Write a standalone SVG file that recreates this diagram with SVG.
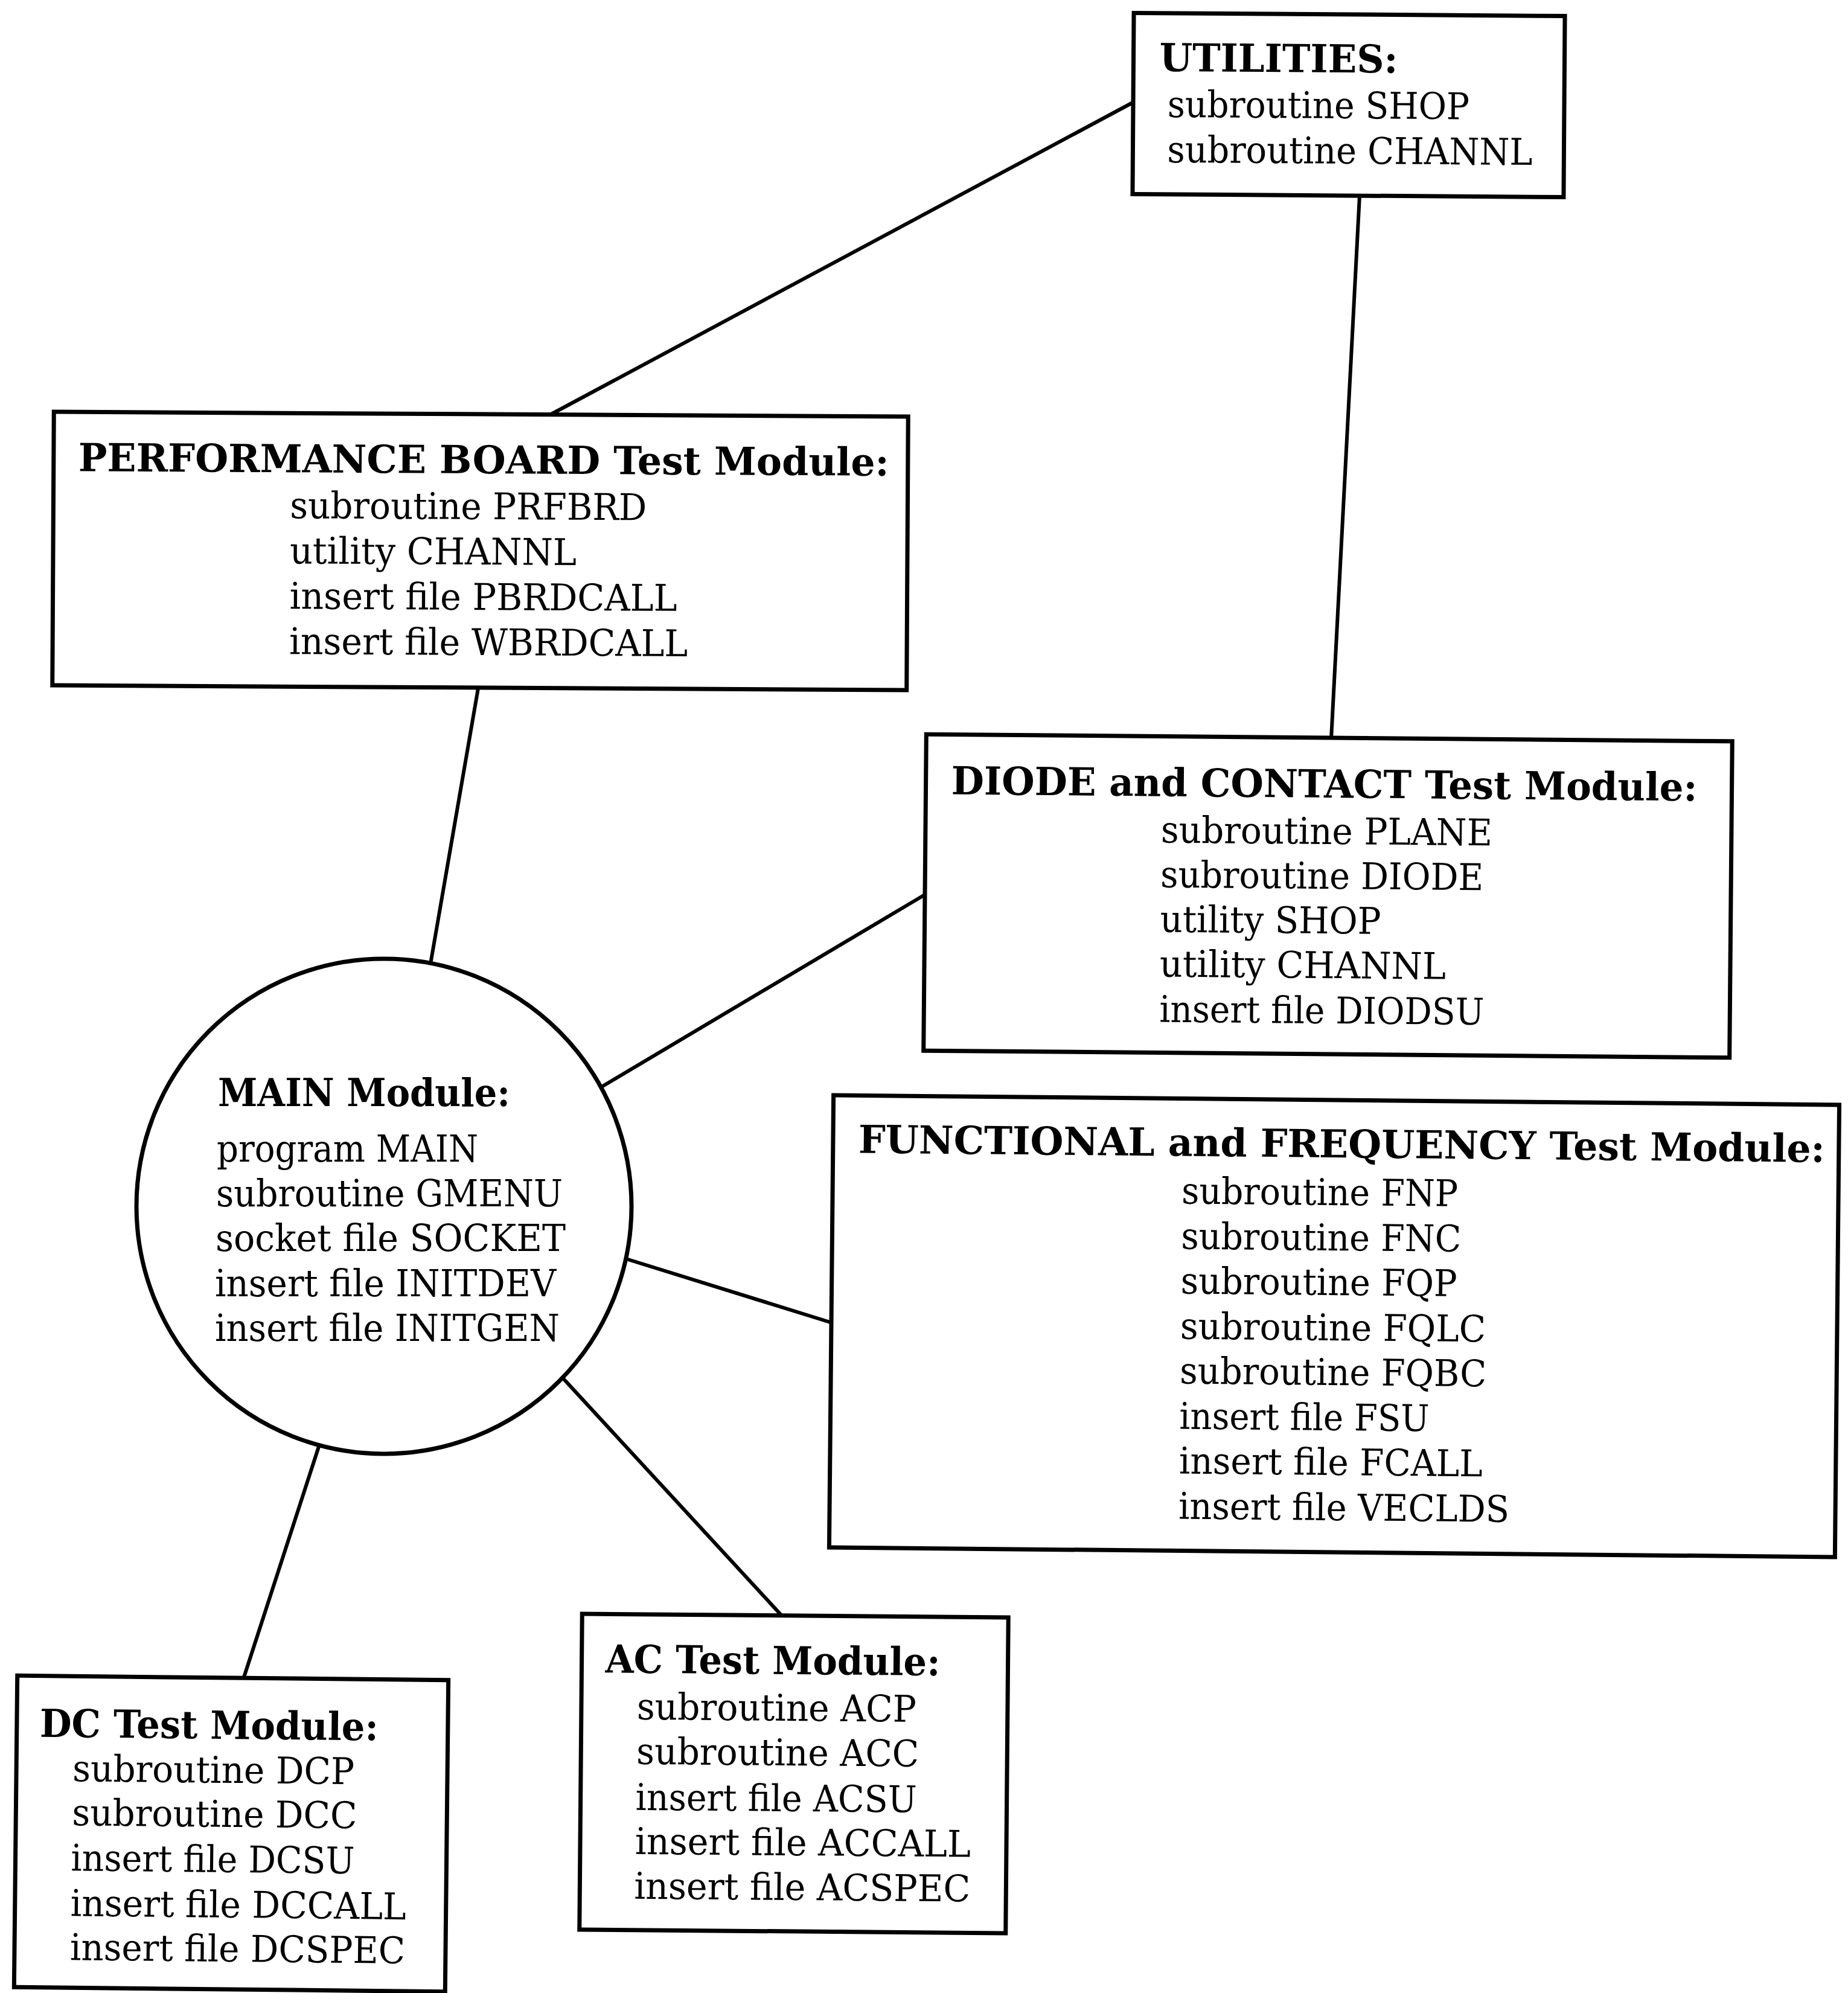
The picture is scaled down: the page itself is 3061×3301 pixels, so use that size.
<svg xmlns="http://www.w3.org/2000/svg" width="3061" height="3301" viewBox="0 0 3061 3301">
  <style>
    .box { fill: #ffffff; stroke: #000000; stroke-width: 7; }
    .edge { stroke: #000000; stroke-width: 6; fill: none; stroke-linecap: round; }
    .hd { font-family: "DejaVu Serif", "Liberation Serif", serif; font-weight: bold; font-size: 64px; fill: #000000; }
    .ln { font-family: "DejaVu Serif", "Liberation Serif", serif; font-size: 61px; fill: #000000; }
  </style>
  <rect x="0" y="0" width="3061" height="3301" fill="#ffffff"/>

  <!-- links between modules -->
  <g id="connectors">
    <line class="edge" x1="1876" y1="170" x2="913" y2="686"/>
    <line class="edge" x1="2252" y1="324" x2="2205" y2="1224"/>
    <line class="edge" x1="792" y1="1140" x2="714" y2="1591"/>
    <line class="edge" x1="1530" y1="1483" x2="995" y2="1801"/>
    <line class="edge" x1="1037" y1="2085" x2="1375" y2="2190"/>
    <line class="edge" x1="930" y1="2280" x2="1294" y2="2675"/>
    <line class="edge" x1="529" y1="2393" x2="404" y2="2778"/>
  </g>

  <g id="utilities" transform="rotate(0.4 2234 174)">
    <rect class="box" x="1877" y="24" width="714" height="300"/>
    <text class="hd" x="1920" y="120" textLength="395" lengthAdjust="spacingAndGlyphs">UTILITIES:</text>
    <text class="ln" x="1934" y="196" textLength="500" lengthAdjust="spacingAndGlyphs">subroutine SHOP</text>
    <text class="ln" x="1934" y="271" textLength="605" lengthAdjust="spacingAndGlyphs">subroutine CHANNL</text>
  </g>

  <g id="performance-board" transform="rotate(0.32 795 912)">
    <rect class="box" x="88" y="686" width="1415" height="453"/>
    <text class="hd" x="129" y="784" textLength="1343" lengthAdjust="spacingAndGlyphs">PERFORMANCE BOARD Test Module:</text>
    <text class="ln" x="480" y="860" textLength="591" lengthAdjust="spacingAndGlyphs">subroutine PRFBRD</text>
    <text class="ln" x="480" y="935" textLength="475" lengthAdjust="spacingAndGlyphs">utility CHANNL</text>
    <text class="ln" x="480" y="1010" textLength="642" lengthAdjust="spacingAndGlyphs">insert file PBRDCALL</text>
    <text class="ln" x="480" y="1085" textLength="660" lengthAdjust="spacingAndGlyphs">insert file WBRDCALL</text>
  </g>

  <g id="diode-contact" transform="rotate(0.5 2200 1484)">
    <rect class="box" x="1532" y="1222" width="1335" height="524"/>
    <text class="hd" x="1574" y="1321" textLength="1236" lengthAdjust="spacingAndGlyphs">DIODE and CONTACT Test Module:</text>
    <text class="ln" x="1922" y="1398" textLength="549" lengthAdjust="spacingAndGlyphs">subroutine PLANE</text>
    <text class="ln" x="1922" y="1472" textLength="535" lengthAdjust="spacingAndGlyphs">subroutine DIODE</text>
    <text class="ln" x="1922" y="1546" textLength="366" lengthAdjust="spacingAndGlyphs">utility SHOP</text>
    <text class="ln" x="1922" y="1620" textLength="474" lengthAdjust="spacingAndGlyphs">utility CHANNL</text>
    <text class="ln" x="1922" y="1695" textLength="538" lengthAdjust="spacingAndGlyphs">insert file DIODSU</text>
  </g>

  <g id="functional-frequency" transform="rotate(0.55 2210 2196)">
    <rect class="box" x="1377" y="1822" width="1666" height="749"/>
    <text class="hd" x="1419" y="1917" textLength="1601" lengthAdjust="spacingAndGlyphs">FUNCTIONAL and FREQUENCY Test Module:</text>
    <text class="ln" x="1955" y="1996" textLength="458" lengthAdjust="spacingAndGlyphs">subroutine FNP</text>
    <text class="ln" x="1955" y="2071" textLength="464" lengthAdjust="spacingAndGlyphs">subroutine FNC</text>
    <text class="ln" x="1955" y="2145" textLength="458" lengthAdjust="spacingAndGlyphs">subroutine FQP</text>
    <text class="ln" x="1955" y="2220" textLength="506" lengthAdjust="spacingAndGlyphs">subroutine FQLC</text>
    <text class="ln" x="1955" y="2294" textLength="508" lengthAdjust="spacingAndGlyphs">subroutine FQBC</text>
    <text class="ln" x="1955" y="2369" textLength="414" lengthAdjust="spacingAndGlyphs">insert file FSU</text>
    <text class="ln" x="1955" y="2443" textLength="503" lengthAdjust="spacingAndGlyphs">insert file FCALL</text>
    <text class="ln" x="1955" y="2518" textLength="548" lengthAdjust="spacingAndGlyphs">insert file VECLDS</text>
  </g>

  <g id="main-module">
    <circle class="box" cx="636" cy="1998" r="410" stroke-width="6"/>
    <text class="hd" x="361" y="1832" textLength="484" lengthAdjust="spacingAndGlyphs">MAIN Module:</text>
    <text class="ln" x="359" y="1924" textLength="433" lengthAdjust="spacingAndGlyphs">program MAIN</text>
    <text class="ln" x="358" y="1998" textLength="574" lengthAdjust="spacingAndGlyphs">subroutine GMENU</text>
    <text class="ln" x="357" y="2072" textLength="580" lengthAdjust="spacingAndGlyphs">socket file SOCKET</text>
    <text class="ln" x="356" y="2147" textLength="565" lengthAdjust="spacingAndGlyphs">insert file INITDEV</text>
    <text class="ln" x="356" y="2221" textLength="571" lengthAdjust="spacingAndGlyphs">insert file INITGEN</text>
  </g>

  <g id="ac-test" transform="rotate(0.49 1315 2937)">
    <rect class="box" x="962" y="2676" width="706" height="523"/>
    <text class="hd" x="1001" y="2773" textLength="555" lengthAdjust="spacingAndGlyphs">AC Test Module:</text>
    <text class="ln" x="1054" y="2850" textLength="463" lengthAdjust="spacingAndGlyphs">subroutine ACP</text>
    <text class="ln" x="1054" y="2924" textLength="468" lengthAdjust="spacingAndGlyphs">subroutine ACC</text>
    <text class="ln" x="1053" y="3000" textLength="466" lengthAdjust="spacingAndGlyphs">insert file ACSU</text>
    <text class="ln" x="1053" y="3073" textLength="556" lengthAdjust="spacingAndGlyphs">insert file ACCALL</text>
    <text class="ln" x="1052" y="3147" textLength="557" lengthAdjust="spacingAndGlyphs">insert file ACSPEC</text>
  </g>

  <g id="dc-test" transform="rotate(0.6 383 3037)">
    <rect class="box" x="26" y="2779" width="714" height="516"/>
    <text class="hd" x="64" y="2880" textLength="561" lengthAdjust="spacingAndGlyphs">DC Test Module:</text>
    <text class="ln" x="119" y="2953" textLength="467" lengthAdjust="spacingAndGlyphs">subroutine DCP</text>
    <text class="ln" x="119" y="3026" textLength="472" lengthAdjust="spacingAndGlyphs">subroutine DCC</text>
    <text class="ln" x="118" y="3101" textLength="470" lengthAdjust="spacingAndGlyphs">insert file DCSU</text>
    <text class="ln" x="118" y="3176" textLength="556" lengthAdjust="spacingAndGlyphs">insert file DCCALL</text>
    <text class="ln" x="118" y="3249" textLength="555" lengthAdjust="spacingAndGlyphs">insert file DCSPEC</text>
  </g>
</svg>
